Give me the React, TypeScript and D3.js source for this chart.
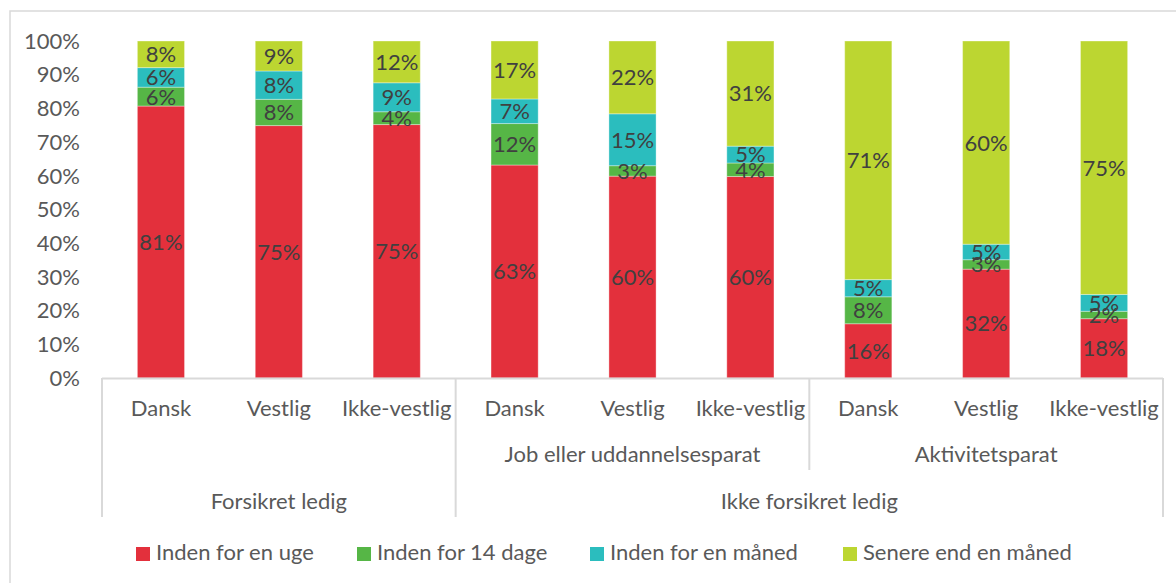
import React from 'react';
import * as d3 from 'd3';

// categories, three levels
const categories = ['Dansk', 'Vestlig', 'Ikke-vestlig', 'Dansk', 'Vestlig', 'Ikke-vestlig', 'Dansk', 'Vestlig', 'Ikke-vestlig'];
const subGroups = ['', 'Job eller uddannelsesparat', 'Aktivitetsparat'];
const subGroupSpans = [[0, 3], [3, 6], [6, 9]];
const mainGroups = ['Forsikret ledig', 'Ikke forsikret ledig'];
const mainGroupSpans = [[0, 3], [3, 9]];

// series values (percent)
const indenUge = [80.7, 74.9, 75.2, 63.2, 59.9, 59.8, 16.1, 32.3, 17.6];
const inden14Dage = [5.6, 7.8, 3.8, 12.3, 3.1, 4.0, 8.0, 2.8, 2.2];
const indenMaaned = [5.8, 8.4, 8.6, 7.3, 15.4, 5.0, 5.1, 4.6, 5.0];
const senere = [7.9, 8.9, 12.4, 17.2, 21.6, 31.2, 70.8, 60.3, 75.2];

const seriesNames = ['Inden for en uge', 'Inden for 14 dage', 'Inden for en måned', 'Senere end en måned'];
const colors = ['#E3303C', '#56B646', '#2BBDBE', '#BCD631'];
const yTicks = [0, 0.1, 0.2, 0.3, 0.4, 0.5, 0.6, 0.7, 0.8, 0.9, 1];

const W = 1176;
const H = 583;
const FONT = 'Lato, "Liberation Sans", sans-serif';
const FS = 22;

const App = () => {
	const keys = ['s0', 's1', 's2', 's3'];
	const rows = categories.map((c, i) => ({
		i: i,
		s0: indenUge[i],
		s1: inden14Dage[i],
		s2: indenMaaned[i],
		s3: senere[i],
	}));
	const stacked = d3.stack().keys(keys).offset(d3.stackOffsetExpand)(rows as any);

	const x = d3.scaleBand<number>()
		.domain(d3.range(categories.length))
		.range([102, 1163])
		.paddingInner(0.6)
		.paddingOuter(0.3);
	const y = d3.scaleLinear().domain([0, 1]).range([378, 41]);
	const step = x.step();
	const left = x.range()[0];
	const edge = (idx: number) => left + idx * step;

	const legendX = [136, 357, 590, 843];

	return (
		<svg width={W} height={H} style={{ position: 'absolute', left: 0, top: 0, background: '#fff' }} fontFamily={FONT}>
			<rect x={10} y={11} width={1180} height={620} fill='#fff' stroke='#d9d9d9' strokeWidth={1.5} />

			{/* y axis labels */}
			{yTicks.map(t => (
				<text key={t} x={80} y={y(t)} dy='0.35em' textAnchor='end' fontSize={FS} fill='#595959'>
					{d3.format('.0%')(t)}
				</text>
			))}

			{/* bars */}
			{stacked.map((s, si) => (
				<g key={si}>
					{s.map((d, i) => (
						<rect
							key={i}
							x={x(i)}
							y={y(d[1])}
							width={x.bandwidth()}
							height={y(d[0]) - y(d[1])}
							fill={colors[si]}
							stroke='#fff'
							strokeOpacity={0.35}
							strokeWidth={1}
						/>
					))}
				</g>
			))}

			{/* data labels */}
			{stacked.map((s, si) => (
				<g key={'l' + si}>
					{s.map((d, i) => (
						<text
							key={i}
							x={(x(i) as number) + x.bandwidth() / 2}
							y={(y(d[0]) + y(d[1])) / 2}
							dy='0.36em'
							textAnchor='middle'
							fontSize={FS}
							fill='#404040'
						>
							{Math.round((d[1] - d[0]) * 100) + '%'}
						</text>
					))}
				</g>
			))}

			{/* category axis */}
			<line x1={edge(0)} x2={edge(9)} y1={378.5} y2={378.5} stroke='#d9d9d9' strokeWidth={2} />
			{[0, 3, 9].map(k => (
				<line key={'v' + k} x1={edge(k)} x2={edge(k)} y1={378} y2={517} stroke='#d9d9d9' strokeWidth={2} />
			))}
			<line x1={edge(6)} x2={edge(6)} y1={378} y2={470} stroke='#d9d9d9' strokeWidth={2} />

			{categories.map((c, i) => (
				<text key={'c' + i} x={(x(i) as number) + x.bandwidth() / 2} y={416} textAnchor='middle' fontSize={FS} fill='#595959'>
					{c}
				</text>
			))}
			{subGroups.map((g, k) => (
				<text key={'g' + k} x={(edge(subGroupSpans[k][0]) + edge(subGroupSpans[k][1])) / 2} y={462} textAnchor='middle' fontSize={FS} fill='#595959'>
					{g}
				</text>
			))}
			{mainGroups.map((g, k) => (
				<text key={'m' + k} x={(edge(mainGroupSpans[k][0]) + edge(mainGroupSpans[k][1])) / 2} y={509} textAnchor='middle' fontSize={FS} fill='#595959'>
					{g}
				</text>
			))}

			{/* legend */}
			{seriesNames.map((n, i) => (
				<g key={'lg' + i}>
					<rect x={legendX[i]} y={547} width={14} height={14} fill={colors[i]} />
					<text x={legendX[i] + 20} y={560} fontSize={FS} fill='#595959'>{n}</text>
				</g>
			))}
		</svg>
	);
};

export default App;
